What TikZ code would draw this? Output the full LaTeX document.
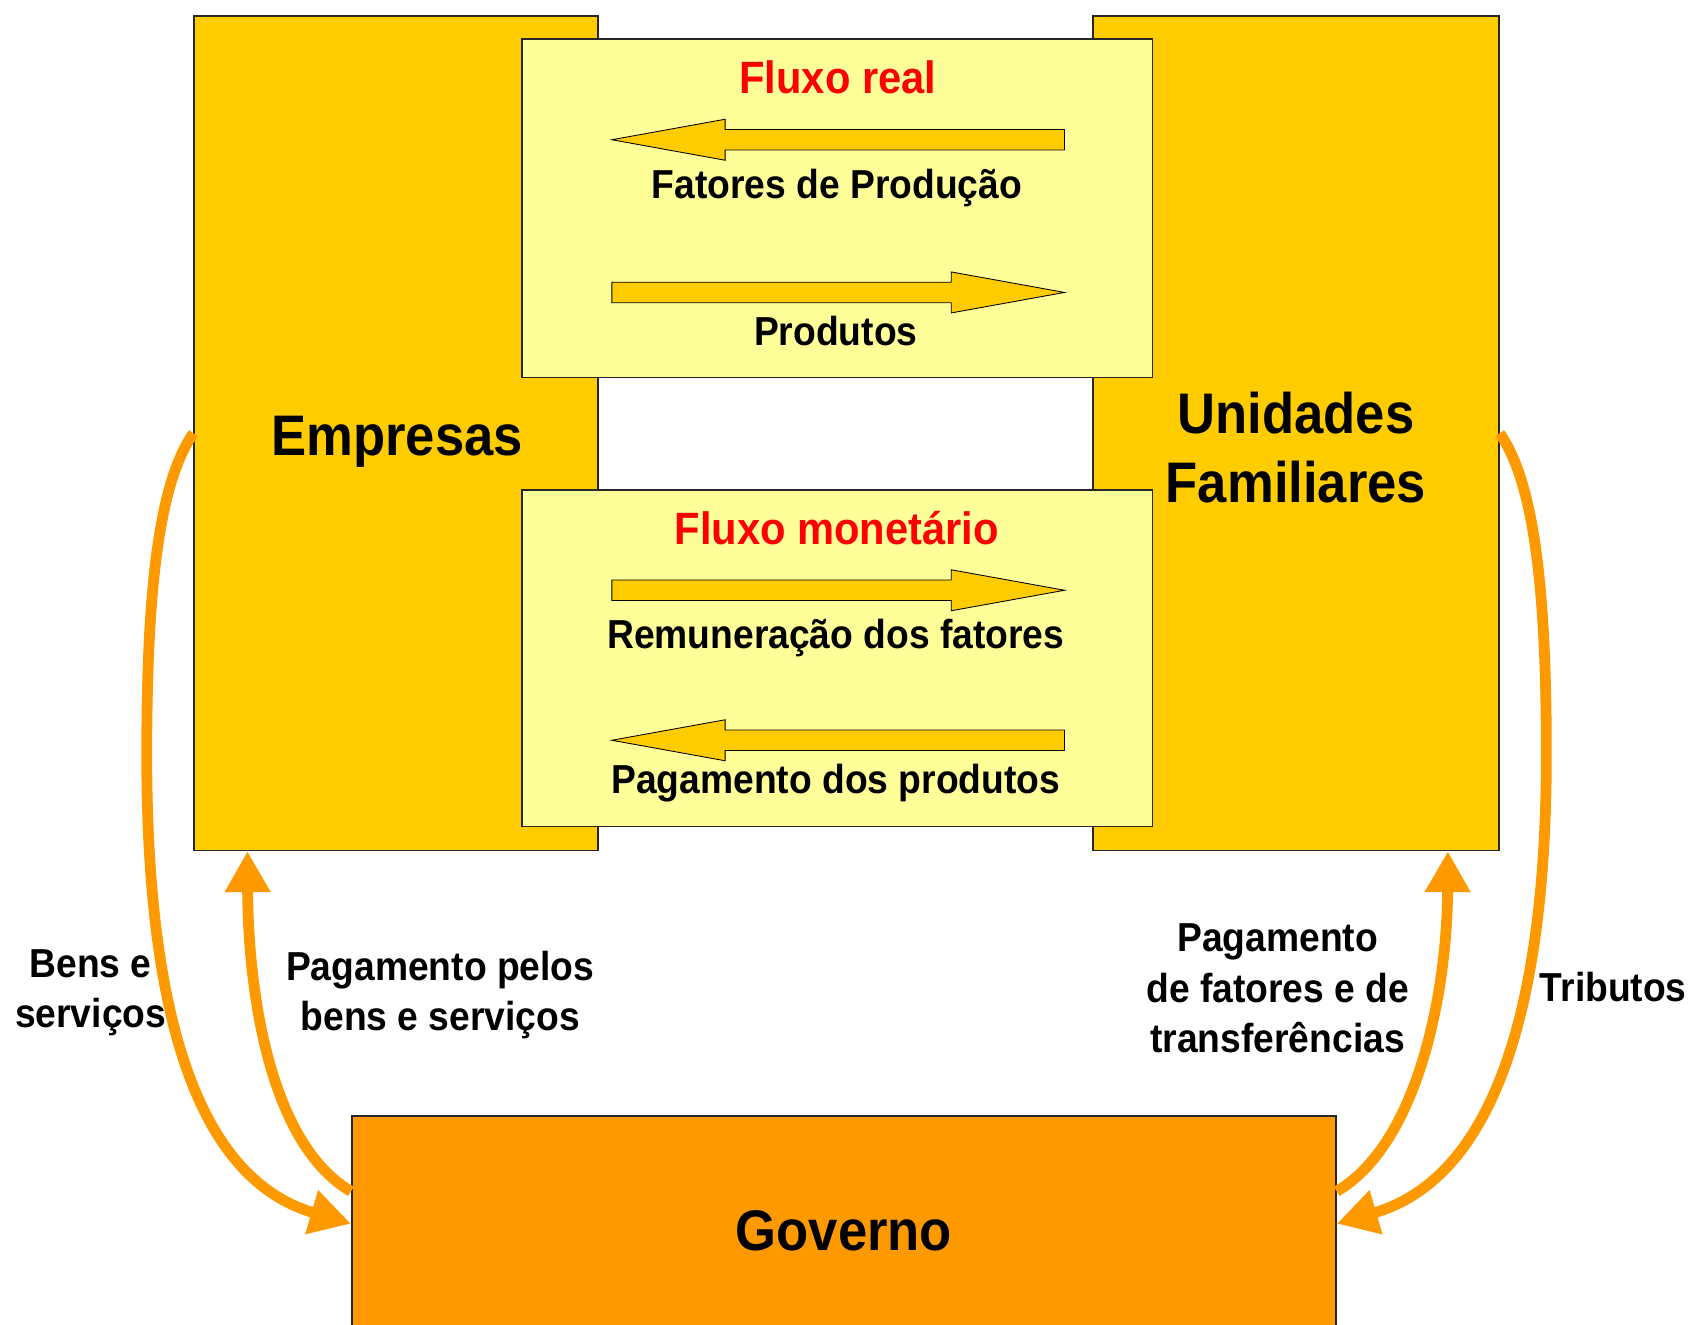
\documentclass[tikz,border=0pt]{standalone}
\usepackage{fontspec}
\setmainfont{Liberation Sans}[FakeStretch=0.92]
\usetikzlibrary{arrows.meta}
\definecolor{amarelo}{HTML}{FFCC00}
\definecolor{amareloclaro}{HTML}{FFFF99}
\definecolor{laranja}{HTML}{FF9900}
\definecolor{vermelho}{HTML}{FF0000}

\tikzset{
  bloco/.style={draw=black!85, line width=1.5pt, inner sep=0pt},
  fluxo/.style={bloco, fill=amareloclaro},
  seta/.style={draw=black, line width=0.8pt, fill=amarelo, line join=miter},
  curva/.style={draw=laranja, line width=10pt, -{Triangle[length=38pt,width=40pt]}},
  rotulo/.style={font=\bfseries\fontsize{37.5}{47}\selectfont, align=center},
  titulo/.style={font=\bfseries\fontsize{42}{50}\selectfont, text=vermelho},
  grande/.style={font=\bfseries\fontsize{53}{64}\selectfont, align=center},
}

\begin{document}
\begin{tikzpicture}[x=1pt,y=-1pt]
    \useasboundingbox (0,0) rectangle (1568,1227);
    % caixas
    \node[bloco, fill=amarelo, minimum width=374pt, minimum height=773pt] (emp) at (367,401.5) {};
    \node[bloco, fill=amarelo, minimum width=376pt, minimum height=773pt] (uf) at (1201,401.5) {};
    \node[fluxo, minimum width=584pt, minimum height=314pt] (real) at (776,193) {};
    \node[fluxo, minimum width=584pt, minimum height=312pt] (monet) at (776,610) {};
    \node[bloco, fill=laranja, minimum width=912pt, minimum height=200pt] (gov) at (782,1134) {};
    % setas dos fluxos (-1 = para a esquerda)
    \foreach \y/\s in {129.5/-1, 271/1, 547/1, 686/-1}
        \draw[seta] ({776.75-\s*209.75},{\y-9.5}) -- ({776.75+\s*104.75},{\y-9.5})
            -- ({776.75+\s*104.75},{\y-19}) -- ({776.75+\s*209.75},\y)
            -- ({776.75+\s*104.75},{\y+19}) -- ({776.75+\s*104.75},{\y+9.5})
            -- ({776.75-\s*209.75},{\y+9.5}) -- cycle;
    % textos
    \node[grande, anchor=base] (empT) at (368,422) {Empresas};
    \node[grande] (ufT) at (1201,415) {Unidades\\Familiares};
    \node[grande, anchor=base] (govT) at (782,1159) {Governo};
    \node[titulo, anchor=base] (realT) at (776.5,87) {Fluxo real};
    \node[titulo, anchor=base] (monetT) at (775.5,505) {Fluxo monetário};
    \node[rotulo, anchor=base] (fat) at (775.5,183.5) {Fatores de Produção};
    \node[rotulo, anchor=base] (prod) at (774.5,320) {Produtos};
    \node[rotulo, anchor=base] (rem) at (774.5,601) {Remuneração dos fatores};
    \node[rotulo, anchor=base] (pag) at (774.5,735) {Pagamento dos produtos};
    % fluxos com o governo
    \draw[curva] (emp.west) .. controls (145,450) and (136,560) .. (136,700)
        .. controls (136,920) and (175,1090) .. (gov.west);
    \draw[curva] ([yshift=30pt]gov.west) .. controls (250,1060) and (230,920) .. ([xshift=50pt]emp.south west);
    \draw[curva] ([yshift=30pt]gov.east) .. controls (1314,1060) and (1341,920) .. ([xshift=-48pt]uf.south east);
    \draw[curva] (uf.east) .. controls (1424,450) and (1433,560) .. (1433,700)
        .. controls (1433,920) and (1390,1090) .. (gov.east);
    \node[rotulo] (bens) at (84,920) {Bens e\\serviços};
    \node[rotulo] (pgbens) at (408,922) {Pagamento pelos\\bens e serviços};
    \node[rotulo] (pgfat) at (1184,916) {Pagamento\\de fatores e de\\transferências};
    \node[rotulo, anchor=base] (trib) at (1495,928) {Tributos};
\end{tikzpicture}
\end{document}
